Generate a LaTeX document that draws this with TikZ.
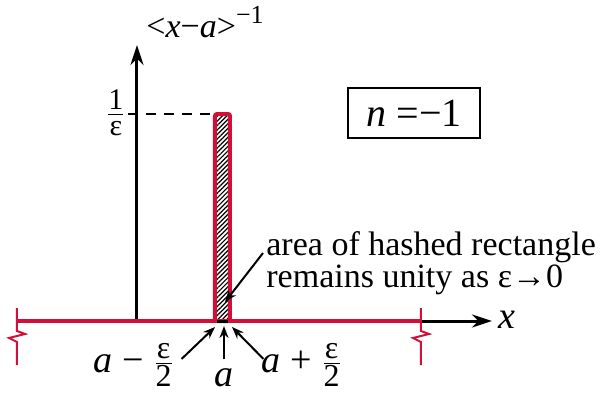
\documentclass[tikz,border=0pt]{standalone}
\usepackage{amsmath}
\usepackage{fontspec}
\setmainfont{Liberation Serif}
\usetikzlibrary{arrows.meta, patterns.meta, calc}
\definecolor{crim}{RGB}{208,16,56}
\newcommand{\fsz}[1]{\fontsize{#1}{#1}\selectfont}
\newcommand{\sfr}[3]{$\genfrac{}{}{0.5pt}{1}{\hbox{\fsz{#1}#2}}{\hbox{\fsz{#1}#3}}$}

\begin{document}
\begin{tikzpicture}[x=0.5pt, y=-0.5pt,
  redax/.style={draw=crim, line width=2pt},
  brk/.style={draw=crim, line width=1pt},
  axis/.style={line width=1.5pt, -{Stealth[length=10pt, width=6.5pt]}},
  arr/.style={line width=1pt, -{Stealth[length=6pt, width=4.5pt]}},
  dashln/.style={line width=0.6pt, dash pattern=on 5pt off 4pt},
  bar/.style={rectangle, draw=crim, line width=2pt, rounded corners=1pt,
              minimum width=7.5pt, minimum height=103.5pt,
              inner sep=0pt, outer sep=0pt,
              pattern={Lines[angle=45, distance=1.6pt, line width=0.6pt]}},
  lbl/.style={inner sep=1pt, font=\fsz{19}},
  note/.style={anchor=west, align=left, inner sep=0pt,
               font=\fontsize{17}{16}\selectfont},
  nbox/.style={draw, line width=1pt, minimum width=66pt,
               minimum height=25pt, font=\fsz{20}}
]
\useasboundingbox (0,0) rectangle (602,397);
%% Axes
\coordinate (xs) at (17,321);
\coordinate (xb) at (421,321);
\coordinate (xe) at (492,321);
\coordinate (y0) at (137,321);
\coordinate (ye) at (137,45);
\draw[axis] (y0) -- (ye);
\draw[axis] (xb) -- (xe);
\draw[redax] (xs) -- (xb);
%% Break marks
\foreach \bx in {17, 421}{
  \draw[brk] (\bx,308) -- (\bx,331) -- (\bx+8,334) -- (\bx-8,338)
             -- (\bx,342) -- (\bx,365);}
%% Hashed rectangle
\node[bar, anchor=south] (bar) at (222.5,321) {};
\draw[line width=1.5pt] ([xshift=1pt]bar.south west) -- ([xshift=-1pt]bar.south east);
%% Axis labels
\node[lbl, font=\fsz{19}] (xlab) at (507,320) {\textit{x}};
\node[anchor=base west, inner sep=0pt, font=\fsz{17}] (ylab) at (146,37)
  {<\textit{x}−\textit{a}>\raisebox{7pt}{\fsz{13}−1}};
\node[inner sep=1pt, font=\fsz{16}] (inv) at (116,113) {\sfr{15}{1}{ε}};
\draw[dashln] (inv.east |- bar.north) -- (bar.north west);
%% Case box
\node[nbox] (nbox) at (414,113) {\textit{n} =−1};
%% Note
\node[note] (note) at (266,263) {area of hashed rectangle\\remains unity as ε→0};
\coordinate (th) at (225,302);
\draw[arr] ([shift={(-3,-10)}]note.west) -- (th);
%% Bottom labels
\node[lbl] (aminus) at (134,365) {\textit{a} − \sfr{16}{ε}{2}};
\node[lbl] (acen) at (224,378) {\textit{a}};
\node[lbl] (aplus) at (302,365) {\textit{a} + \sfr{16}{ε}{2}};
\coordinate (tl) at (215,327);
\coordinate (tc) at (224,326);
\coordinate (tr) at (232,327);
\draw[arr] ([shift={(5,-6)}]aminus.east) -- (tl);
\draw[arr] ([shift={(0,-7)}]acen.north) -- (tc);
\draw[arr] ([shift={(4,-6)}]aplus.west) -- (tr);
\end{tikzpicture}
\end{document}
